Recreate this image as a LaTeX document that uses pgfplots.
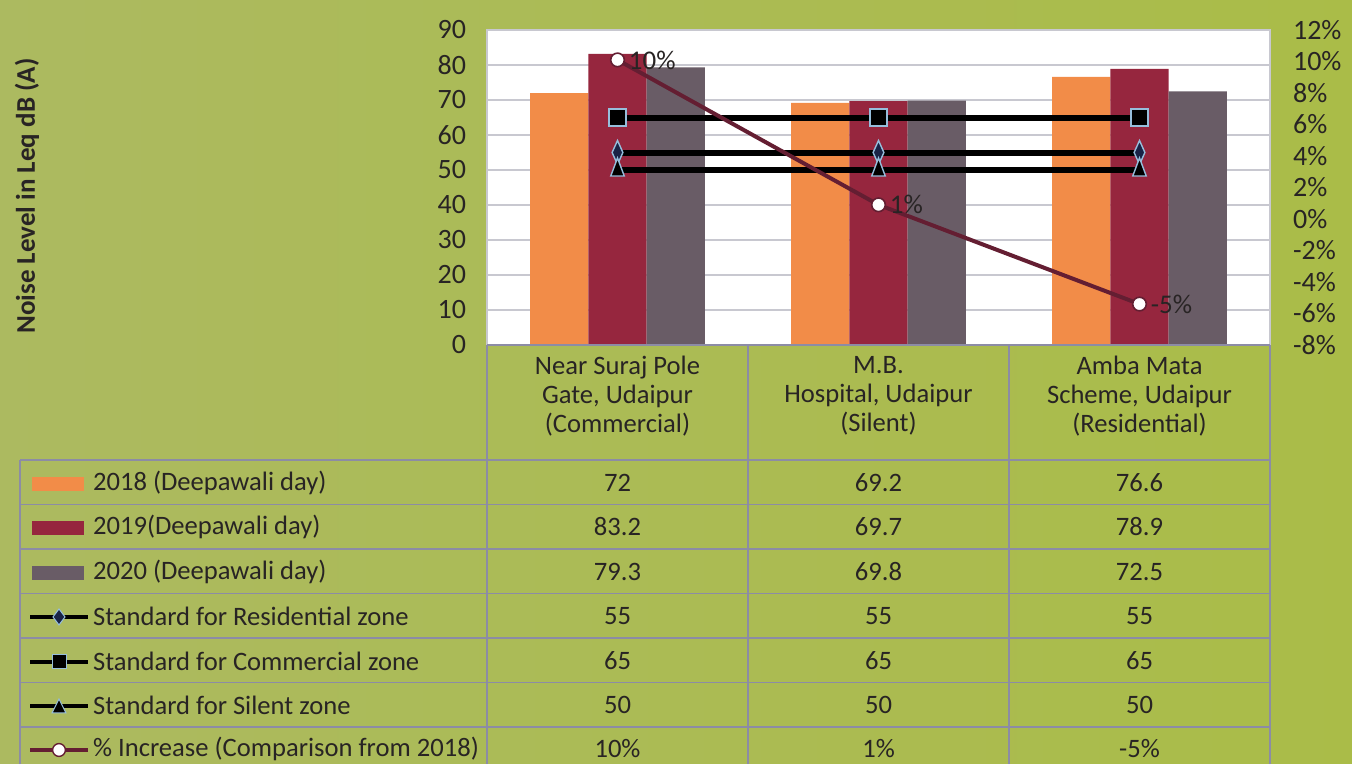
\documentclass[border=0pt]{standalone}
\usepackage{pgfplots}
\pgfplotsset{compat=1.18}
\usepackage{fontspec}
\setmainfont{Carlito}
\definecolor{bgL}{RGB}{172,186,96}
\definecolor{bgR}{RGB}{170,188,72}
\definecolor{c18}{RGB}{242,140,72}
\definecolor{c19}{RGB}{150,38,62}
\definecolor{c20}{RGB}{105,92,102}
\definecolor{pline}{RGB}{100,30,50}
\definecolor{gridc}{RGB}{200,200,208}
\definecolor{tline}{RGB}{140,140,165}
\definecolor{txt}{RGB}{40,36,36}
\definecolor{diam}{RGB}{25,35,70}
\definecolor{medge}{RGB}{150,190,220}
\begin{document}
\begin{tikzpicture}
\useasboundingbox (0,0) rectangle (676pt,382pt);
\fill[left color=bgL, right color=bgR] (0,0) rectangle (676pt,382pt);
\pgfplotsset{every axis/.append style={
  at={(243.5pt,209.5pt)}, anchor=south west, scale only axis,
  width=391.5pt, height=157.5pt, xmin=-0.5, xmax=2.5,
  tick label style={font=\fontsize{14}{16}\selectfont, text=txt},
  /pgf/number format/assume math mode=true, clip=false,
  ytick style={draw=none}, xtick=\empty}}
\begin{axis}[ymin=0, ymax=90, ytick={0,10,...,90},
  ymajorgrids, grid style={gridc, line width=0.7pt},
  axis background/.style={fill=white},
  axis line style={gridc, line width=0.7pt},
  bar width=0.223, yticklabel style={xshift=-7pt}]
\addplot[ybar, bar shift=-0.223, fill=c18, draw=none] coordinates {(0,72) (1,69.2) (2,76.6)};
\addplot[ybar, bar shift=0, fill=c19, draw=none] coordinates {(0,83.2) (1,69.7) (2,78.9)};
\addplot[ybar, bar shift=0.223, fill=c20, draw=none] coordinates {(0,79.3) (1,69.8) (2,72.5)};
\addplot[black, line width=3pt, mark=square*, mark size=4.3pt, mark options={fill=black, draw=medge, line width=0.7pt}] coordinates {(0,65) (1,65) (2,65)};
\addplot[black, line width=3pt, mark=diamond*, mark size=6pt, mark options={xscale=0.6, fill=diam, draw=medge, line width=0.7pt}] coordinates {(0,55) (1,55) (2,55)};
\addplot[black, line width=3pt, mark=triangle*, mark size=6pt, mark options={xscale=0.65, fill=black, draw=medge, line width=0.7pt}] coordinates {(0,50) (1,50) (2,50)};
\end{axis}
\begin{axis}[ymin=-8, ymax=12, ytick={-8,-6,...,12},
  axis x line=none, axis y line*=right, y axis line style={draw=none},
  yticklabel={\pgfmathprintnumber{\tick}\%}, yticklabel style={xshift=8pt}]
\addplot[pline, line width=2pt, mark=*, mark size=3.4pt,
  mark options={fill=white, draw=pline, line width=0.8pt},
  point meta=explicit symbolic, nodes near coords,
  nodes near coords style={anchor=west, xshift=2pt, font=\fontsize{13.5}{15}\selectfont, text=txt}]
  coordinates {(0,10.1) [10\%] (1,0.9) [1\%] (2,-5.4) [-5\%]};
\end{axis}
\begin{scope}[x=0.5pt, y=-0.5pt, shift={(0pt,382pt)}]
\node[rotate=90, font=\bfseries\fontsize{13.5}{15}\selectfont, text=txt] at (27,196) {Noise Level in Leq dB (A)};
% table grid
\begin{scope}[tline, line width=0.7pt]
\draw (487,345) -- (1270,345);
\foreach \xx in {487,748,1009,1270} \draw (\xx,345) -- (\xx,800);
\draw (20,460) -- (20,800);
\foreach \yy in {460,504.5,549,593.5,638,682.5,727} \draw (20,\yy) -- (1270,\yy);
\end{scope}
\begin{scope}[font=\fontsize{13.3}{14.6}\selectfont, text=txt]
\node[align=center] at (617.5,396) {Near Suraj Pole\\Gate, Udaipur\\(Commercial)};
\node[align=center] at (878.5,396) {M.B.\\Hospital, Udaipur\\(Silent)};
\node[align=center] at (1139.5,396) {Amba Mata\\Scheme, Udaipur\\(Residential)};
% row labels
\node[anchor=west] at (86,483) {2018 (Deepawali day)};
\node[anchor=west] at (86,527) {2019(Deepawali day)};
\node[anchor=west] at (86,572) {2020 (Deepawali day)};
\node[anchor=west] at (86,616) {Standard for Residential zone};
\node[anchor=west] at (86,661) {Standard for Commercial zone};
\node[anchor=west] at (86,705) {Standard for Silent zone};
\node[anchor=west] at (86,749) {\% Increase (Comparison from 2018)};
% values
\foreach \xc/\a/\b/\c/\d/\e/\f/\g in {617.5/72/83.2/79.3/55/65/50/10\%, 878.5/69.2/69.7/69.8/55/65/50/1\%, 1139.5/76.6/78.9/72.5/55/65/50/-5\%}{
  \node at (\xc,483) {\a};
  \node at (\xc,527) {\b};
  \node at (\xc,572) {\c};
  \node at (\xc,616) {\d};
  \node at (\xc,661) {\e};
  \node at (\xc,705) {\f};
  \node at (\xc,749) {\g};
}
\end{scope}
% legend keys
\fill[c18] (32,477) rectangle (84,491);
\fill[c19] (32,521) rectangle (84,535);
\fill[c20] (32,566) rectangle (84,580);
\draw[black, line width=2.2pt] (30,617) -- (88,617);
\draw[fill=diam, draw=medge, line width=0.5pt] (59,609) -- (65,617) -- (59,625) -- (53,617) -- cycle;
\draw[black, line width=2.2pt] (30,662) -- (88,662);
\draw[fill=black, draw=medge, line width=0.5pt] (52,655) rectangle (66,669);
\draw[black, line width=2.2pt] (30,706) -- (88,706);
\draw[fill=black, draw=medge, line width=0.5pt] (52,713) -- (66,713) -- (59,699) -- cycle;
\draw[pline, line width=2.2pt] (30,750) -- (88,750);
\draw[fill=white, draw=pline, line width=0.7pt] (59,750) circle[radius=3.2pt];
\end{scope}
\end{tikzpicture}
\end{document}
